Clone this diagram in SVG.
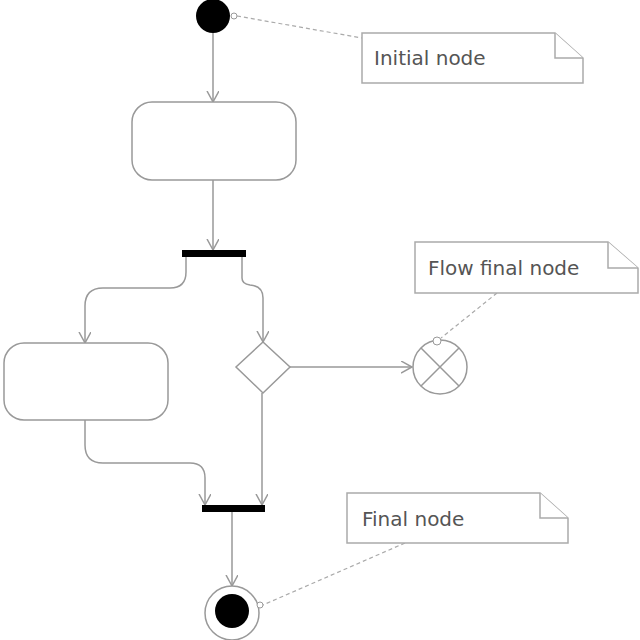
<svg xmlns="http://www.w3.org/2000/svg" width="640" height="640" viewBox="0 0 640 640">
<style>
.flow{fill:none;stroke:#999;stroke-width:1.5}
.dash{fill:none;stroke:#aaa;stroke-width:1.2;stroke-dasharray:4 3}
.act{fill:#fff;stroke:#999;stroke-width:1.5}
.note{fill:#fff;stroke:#aaa;stroke-width:1.5}
.bar{fill:#000}
.lbl{font-family:"DejaVu Sans",Verdana,sans-serif;font-size:20px;fill:#555}
</style>
<defs>
<marker id="arr" markerWidth="14" markerHeight="14" refX="11" refY="6" orient="auto" markerUnits="userSpaceOnUse">
<path d="M0,0 L11,6 L0,12" fill="none" stroke="#999" stroke-width="1.5"/>
</marker>
</defs>
<rect width="640" height="640" fill="#fff"/>
<g id="connectors">
<path class="flow" d="M213,33 V102" marker-end="url(#arr)"/>
<path class="flow" d="M213,180 V250" marker-end="url(#arr)"/>
<path class="flow" d="M186,257 V272 Q186,288 170,288 H103 Q85,288 85,306 V343" marker-end="url(#arr)"/>
<path class="flow" d="M242,257 V278 Q242,284 250,285 Q263,286 263,298 V342" marker-end="url(#arr)"/>
<path class="flow" d="M290,367 H412" marker-end="url(#arr)"/>
<path class="flow" d="M262,393 V505" marker-end="url(#arr)"/>
<path class="flow" d="M85,420 V445 Q85,463 103,463 H190 Q205,463 205,478 V505" marker-end="url(#arr)"/>
<path class="flow" d="M232,512 V586" marker-end="url(#arr)"/>
<path class="dash" d="M237,16 L362,38"/>
<path class="dash" d="M497,293 L441,338"/>
<path class="dash" d="M405,543 L263,605"/>
</g>
<g id="initial">
<circle cx="213" cy="16" r="17" fill="#000"/>
<circle cx="234" cy="16" r="3" fill="#fff" stroke="#999" stroke-width="1"/>
</g>
<g id="note-initial">
<path class="note" d="M362,33 H555 L583,58 V83 H362 Z"/>
<path class="note" d="M555,33 V58 H583"/>
<text class="lbl" x="374" y="65">Initial node</text>
</g>
<g id="activity1">
<rect class="act" x="132" y="102" width="164" height="78" rx="20"/>
</g>
<g id="fork">
<rect class="bar" x="182" y="250" width="64" height="7"/>
</g>
<g id="activity2">
<rect class="act" x="4" y="343" width="164" height="77" rx="20"/>
</g>
<g id="decision">
<path class="act" d="M263,342 L290,367 L263,393 L236,367 Z"/>
</g>
<g id="flow-final">
<circle class="act" cx="440" cy="367" r="27"/>
<path class="flow" d="M421,348 L459,386 M459,348 L421,386"/>
<circle cx="437" cy="341" r="4" fill="#fff" stroke="#999" stroke-width="1"/>
</g>
<g id="note-flow-final">
<path class="note" d="M415,242 H608 L638,268 V293 H415 Z"/>
<path class="note" d="M608,242 V268 H638"/>
<text class="lbl" x="428" y="275">Flow final node</text>
</g>
<g id="join">
<rect class="bar" x="202" y="505" width="63" height="7"/>
</g>
<g id="final">
<circle class="act" cx="232" cy="613" r="27"/>
<circle cx="232" cy="611" r="17" fill="#000"/>
<circle cx="260" cy="605" r="3" fill="#fff" stroke="#999" stroke-width="1"/>
</g>
<g id="note-final">
<path class="note" d="M347,493 H540 L568,518 V543 H347 Z"/>
<path class="note" d="M540,493 V518 H568"/>
<text class="lbl" x="362" y="526">Final node</text>
</g>
</svg>
